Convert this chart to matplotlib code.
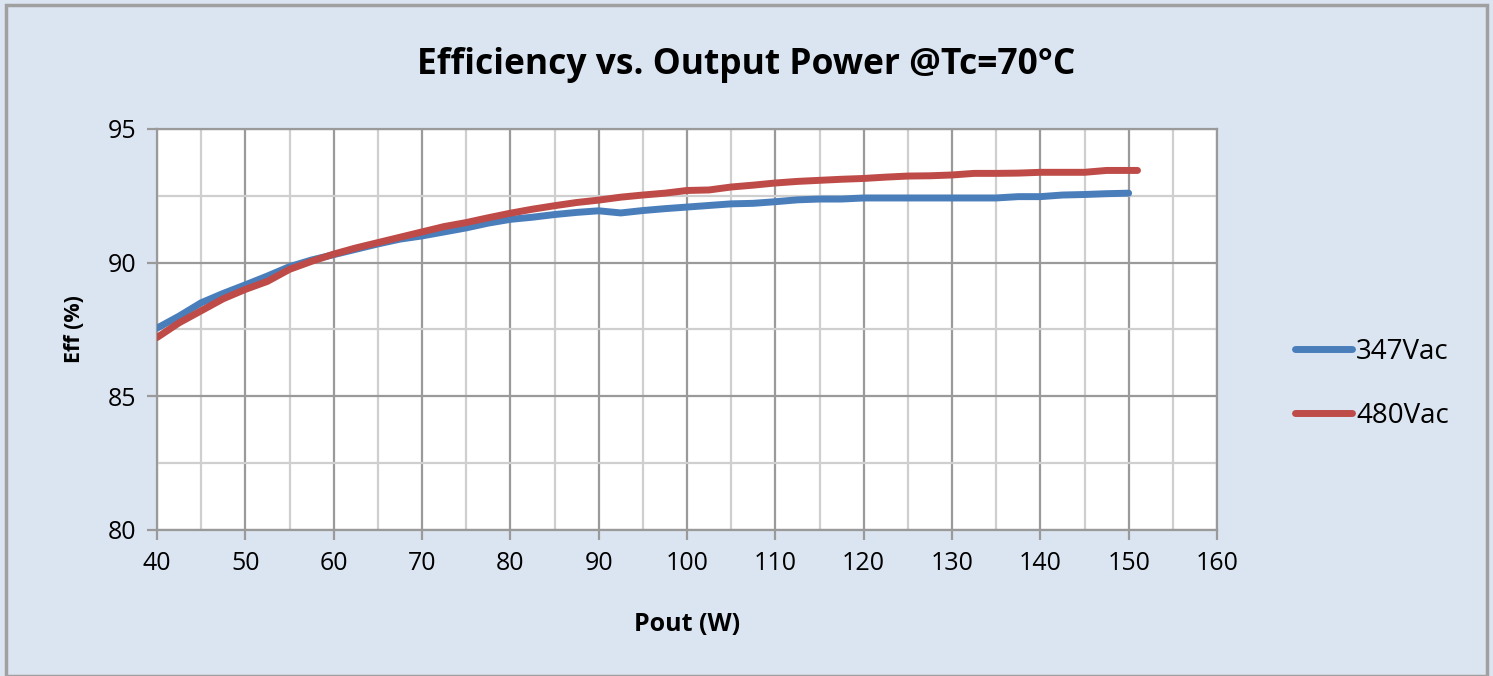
import matplotlib
matplotlib.use("Agg")
import matplotlib.pyplot as plt
from matplotlib.ticker import MultipleLocator
from matplotlib.patches import Rectangle

# Data
pout_347 = [40, 42.5, 45, 47.5, 50, 52.5, 55, 57.5, 60, 62.5, 65, 67.5, 70, 72.5, 75, 77.5,
            80, 82.5, 85, 87.5, 90, 92.5, 95, 97.5, 100, 102.5, 105, 107.5, 110, 112.5, 115,
            117.5, 120, 125, 130, 135, 137.5, 140, 142.5, 145, 147.5, 150]
eff_347 = [87.55, 88.0, 88.5, 88.85, 89.17, 89.5, 89.85, 90.1, 90.3, 90.5, 90.7, 90.88, 91.0,
           91.15, 91.3, 91.48, 91.62, 91.7, 91.8, 91.88, 91.94, 91.86, 91.95, 92.02, 92.08,
           92.14, 92.2, 92.22, 92.28, 92.35, 92.38, 92.38, 92.42, 92.42, 92.42, 92.42, 92.47,
           92.47, 92.53, 92.55, 92.58, 92.6]
pout_480 = [40, 42.5, 45, 47.5, 50, 52.5, 55, 57.5, 60, 62.5, 65, 67.5, 70, 72.5, 75, 77.5,
            80, 82.5, 85, 87.5, 90, 92.5, 95, 97.5, 100, 102.5, 105, 107.5, 110, 112.5, 115,
            117.5, 120, 122.5, 125, 127.5, 130, 132.5, 135, 137.5, 140, 142.5, 145, 147.5, 151]
eff_480 = [87.2, 87.75, 88.2, 88.65, 89.0, 89.3, 89.75, 90.05, 90.32, 90.55, 90.75, 90.95,
           91.15, 91.35, 91.5, 91.68, 91.85, 92.0, 92.13, 92.25, 92.34, 92.45, 92.53, 92.6,
           92.7, 92.72, 92.83, 92.9, 92.98, 93.04, 93.08, 93.12, 93.15, 93.2, 93.24, 93.25,
           93.28, 93.34, 93.34, 93.35, 93.38, 93.38, 93.38, 93.45, 93.45]
labels = ["347Vac", "480Vac"]
title = "Efficiency vs. Output Power @Tc=70°C"
xlabel = "Pout (W)"
ylabel = "Eff (%)"

plt.rcParams['font.family'] = ['Open Sans', 'DejaVu Sans']

BG = '#dbe5f1'
fig = plt.figure(figsize=(14.93, 6.76), dpi=100, facecolor=BG)
fig.patches.append(Rectangle((6/1493, 0), (1487-6)/1493, 1 - 5/676, transform=fig.transFigure,
                             fill=False, edgecolor='#a0a0a0', linewidth=2.5, zorder=0))
ax = fig.add_axes([157/1493, 1 - 530/676, (1217-157)/1493, (530-129)/676])
ax.set_facecolor('white')

ax.plot(pout_347, eff_347, color='#4a7ebb', lw=5, solid_capstyle='round', label=labels[0], zorder=3)
ax.plot(pout_480, eff_480, color='#be4b48', lw=5, solid_capstyle='round', label=labels[1], zorder=3)

ax.set_xlim(40, 160)
ax.set_ylim(80, 95)
ax.xaxis.set_major_locator(MultipleLocator(10))
ax.xaxis.set_minor_locator(MultipleLocator(5))
ax.yaxis.set_major_locator(MultipleLocator(5))
ax.yaxis.set_minor_locator(MultipleLocator(2.5))
ax.grid(which='major', color='#9a9a9a', lw=1.6, zorder=1)
ax.grid(which='minor', color='#cfcfcf', lw=1.6, zorder=1)
ax.set_axisbelow(True)
for s in ax.spines.values():
    s.set_color('#9a9a9a')
    s.set_linewidth(1.6)
ax.tick_params(which='major', length=7, width=1.6, color='#9a9a9a', labelsize=18, pad=8)
ax.tick_params(which='minor', length=0)

fig.text(0.5, 1 - 65/676, title, fontsize=25.5, fontweight='bold', ha='center', va='center')
ax.set_xlabel(xlabel, fontsize=18, fontweight='bold', labelpad=26)
ax.set_ylabel(ylabel, fontsize=15.5, fontweight='bold', labelpad=16)

leg = fig.legend(loc='center left', bbox_to_anchor=(1270/1493, 1 - 384/676), frameon=False,
                 fontsize=20, handlelength=2.05, handletextpad=0.15, labelspacing=1.3)

fig.savefig('out.png', dpi=100, facecolor=BG)
